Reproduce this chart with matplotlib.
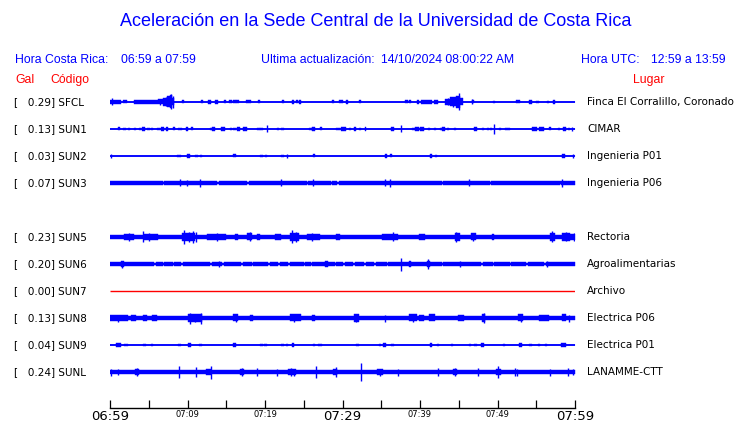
import numpy as np
import matplotlib.pyplot as plt

# stations, top to bottom (row 4 is left empty in the original)
codes = ['SFCL', 'SUN1', 'SUN2', 'SUN3', 'SUN5', 'SUN6', 'SUN7', 'SUN8', 'SUN9', 'SUNL']
rows = [0, 1, 2, 3, 5, 6, 7, 8, 9, 10]
peak_gal = [0.29, 0.13, 0.03, 0.07, 0.23, 0.20, 0.00, 0.13, 0.04, 0.24]
places = ['Finca El Corralillo, Coronado', 'CIMAR', 'Ingenieria P01', 'Ingenieria P06',
          'Rectoria', 'Agroalimentarias', 'Archivo', 'Electrica P06', 'Electrica P01',
          'LANAMME-CTT']

# time axis: minutes after 06:59
tick_min = list(range(0, 61, 5))
tick_labels = ['06:59', '', '07:09', '', '07:19', '', '07:29', '', '07:39', '', '07:49', '', '07:59']
big_labels = ['06:59', '07:29', '07:59']

# envelopes: base level, bursts (t0, t1, amp), blips (t, amp), spikes (t, amp)
sfcl_base = 0.0
sfcl_blocks = [(0.0, 1.4, 2.3), (1.7, 2.2, 1.5), (3.1, 6.2, 1.7), (6.2, 6.8, 2.5), (6.8, 7.4, 4.0),
               (7.4, 7.7, 5.5), (7.7, 8.0, 6.5), (8.0, 8.3, 3.5), (12.6, 13.0, 1.6), (13.5, 13.9, 1.8),
               (23.5, 23.8, 1.8), (24.4, 24.7, 1.8), (30.4, 30.7, 1.8), (39.6, 39.9, 1.8),
               (40.1, 41.5, 2.0), (41.8, 42.3, 2.0), (43.2, 43.9, 3.0), (43.9, 44.6, 4.5),
               (44.6, 45.2, 6.0), (45.2, 45.6, 3.5), (52.4, 52.9, 1.5), (54.1, 54.4, 1.8), (57.2, 57.4, 1.8)]
sfcl_blips = [(9.3, 1.5), (11.7, 1.5), (14.7, 1.5), (15.4, 1.5), (15.9, 1.5), (16.3, 1.5), (17.6, 1.5),
              (17.9, 1.5), (19.1, 1.5), (22.2, 1.5), (24.0, 1.5), (28.6, 1.5), (29.5, 1.5), (29.8, 1.5),
              (32.1, 1.5), (38.1, 1.5), (38.6, 1.5), (46.7, 1.5), (49.4, 1.3), (55.0, 1.3), (56.4, 1.3)]
sfcl_spikes = [(0.3, 3.5), (6.5, 3.0), (7.2, 4.5), (7.9, 7.5), (8.1, 6.0), (43.6, 3.5), (44.2, 5.0),
               (45.0, 8.5), (46.7, 2.5)]

sun1_base = 0.0
sun1_blocks = [(4.1, 4.5, 1.6), (6.6, 7.0, 1.8), (7.2, 7.5, 1.6), (9.8, 10.0, 1.6), (13.2, 13.5, 1.6),
               (14.3, 14.8, 1.8), (16.4, 16.8, 1.8), (17.2, 17.7, 1.8), (26.1, 26.4, 1.6),
               (29.8, 30.4, 1.8), (31.5, 31.7, 1.6), (32.9, 33.0, 1.6), (36.3, 36.6, 1.8),
               (39.2, 39.9, 1.8), (40.0, 40.5, 1.8), (42.8, 43.2, 1.6), (47.0, 47.3, 1.6),
               (54.4, 55.1, 1.8), (55.3, 56.0, 1.8), (58.4, 58.8, 1.8)]
sun1_blips = [(1.0, 1.5), (1.7, 1.3), (2.3, 1.3), (3.1, 1.3), (3.7, 1.3), (4.8, 1.3), (5.3, 1.3),
              (6.1, 1.3), (8.1, 1.5), (8.8, 1.3), (9.0, 1.3), (10.4, 1.5), (12.9, 1.3), (15.5, 1.3),
              (15.9, 1.3), (19.0, 1.3), (19.4, 1.3), (21.5, 1.3), (22.1, 1.3), (25.7, 1.3), (27.1, 1.5),
              (29.2, 1.3), (29.4, 1.3), (30.8, 1.3), (32.1, 1.3), (39.0, 1.3), (41.0, 1.3), (41.8, 1.3),
              (42.6, 1.3), (43.5, 1.3), (44.4, 1.3), (48.0, 1.3), (48.6, 1.3), (49.0, 1.3), (50.2, 1.3),
              (51.0, 1.3), (51.3, 1.3), (56.6, 1.5), (57.8, 1.3), (59.1, 1.3)]
sun1_spikes = [(20.3, 3.5), (37.5, 3.5), (49.5, 5.0), (59.6, 2.0)]

sun2_base = 0.0
sun2_blocks = [(9.9, 10.3, 1.8), (35.5, 35.7, 1.8), (41.3, 41.5, 1.6), (58.3, 58.7, 1.8)]
sun2_blips = [(8.6, 1.3), (8.9, 1.3), (11.0, 1.3), (11.6, 1.3), (15.9, 1.5), (19.4, 1.3), (20.0, 1.3),
              (22.1, 1.3), (26.2, 1.5), (36.1, 1.5), (41.9, 1.3)]
sun2_spikes = [(0.1, 2.0), (22.8, 2.0), (59.7, 2.0)]

sun3_base = 2.0
sun3_blocks = [(6.8, 7.0, 1.2), (13.8, 14.0, 1.2), (17.7, 17.9, 1.2), (25.4, 25.6, 1.2),
               (28.5, 28.7, 1.2), (29.3, 29.5, 1.2), (42.8, 43.0, 1.2), (49.0, 49.2, 1.2),
               (58.0, 58.2, 1.5)]
sun3_blips = []
sun3_spikes = [(9.0, 3.5), (9.9, 3.0), (11.6, 4.0), (22.1, 3.5), (26.2, 3.5), (35.5, 3.5),
               (36.1, 4.0), (46.3, 3.5), (58.3, 4.0)]

sun5_base = 2.3
sun5_blocks = [(1.8, 3.1, 3.0), (4.4, 6.2, 3.3), (9.3, 11.0, 4.0), (12.5, 15.0, 2.8), (16.1, 16.5, 3.0),
               (17.7, 18.3, 3.5), (19.0, 19.3, 3.0), (21.3, 22.1, 3.2), (23.2, 24.4, 4.2),
               (25.4, 27.1, 2.8), (29.2, 29.7, 3.0), (35.1, 37.2, 3.0), (39.9, 40.7, 2.8),
               (44.5, 45.2, 4.0), (46.6, 47.2, 3.5), (49.3, 49.6, 3.0), (56.8, 57.4, 4.2),
               (58.3, 59.4, 3.6), (59.4, 60.0, 3.3)]
sun5_blips = []
sun5_spikes = [(2.4, 3.8), (4.2, 5.5), (5.0, 4.2), (9.6, 7.0), (10.2, 5.0), (10.7, 6.0), (11.1, 5.0),
               (13.8, 3.6), (18.0, 4.5), (23.5, 6.5), (24.0, 5.0), (26.0, 3.6), (36.5, 4.5),
               (44.7, 5.0), (46.9, 4.3), (57.0, 5.5), (58.8, 4.5), (59.9, 4.0)]

sun6_base = 1.8
sun6_blocks = [(1.4, 1.8, 2.8), (5.7, 5.9, 1.0), (6.8, 7.0, 1.0), (8.1, 8.3, 1.0), (9.2, 9.4, 1.0),
               (12.9, 13.1, 1.0), (14.5, 14.7, 1.0), (16.9, 17.1, 1.0), (18.3, 18.5, 1.0),
               (20.4, 20.6, 1.0), (21.7, 21.9, 1.0), (23.0, 23.2, 1.0), (25.0, 25.2, 1.0),
               (25.9, 26.1, 1.0), (27.7, 28.1, 3.0), (29.0, 29.2, 1.0), (30.1, 30.3, 1.0),
               (31.4, 31.6, 1.0), (32.8, 33.0, 1.0), (34.1, 34.3, 1.0), (35.7, 35.9, 1.0),
               (38.6, 38.9, 3.0), (40.9, 41.3, 3.0), (42.8, 43.0, 1.0), (47.9, 48.1, 1.0),
               (49.4, 49.6, 1.0), (51.6, 51.8, 1.0), (53.7, 53.9, 1.0), (56.0, 56.2, 1.0)]
sun6_blips = []
sun6_spikes = [(1.5, 3.5), (14.0, 2.8), (37.5, 6.5), (41.0, 4.5), (45.1, 3.0), (56.4, 3.0)]

sun7_base = 0.0
sun7_blocks = []
sun7_blips = []
sun7_spikes = []

sun8_base = 2.1
sun8_blocks = [(0.0, 2.3, 2.8), (2.7, 3.3, 2.8), (4.2, 4.8, 2.9), (5.4, 6.1, 2.8), (10.1, 11.9, 4.0),
               (15.9, 16.5, 3.5), (18.1, 18.4, 3.2), (23.2, 24.6, 3.5), (26.1, 26.5, 3.0),
               (31.5, 32.1, 3.8), (38.6, 39.6, 3.5), (39.9, 40.5, 3.0), (41.2, 41.9, 3.5),
               (44.9, 45.7, 3.0), (48.0, 48.4, 3.8), (52.6, 53.3, 3.5), (55.3, 56.6, 3.3),
               (58.3, 58.8, 3.5)]
sun8_blips = []
sun8_spikes = [(1.0, 3.5), (10.3, 5.5), (11.0, 4.5), (11.7, 5.5), (16.2, 4.0), (23.8, 4.2),
               (31.8, 4.5), (35.5, 3.5), (39.1, 4.0), (48.2, 4.8), (53.0, 4.0), (59.2, 3.5)]

sun9_base = 0.0
sun9_blocks = [(0.8, 1.4, 1.6), (1.8, 2.3, 1.4), (8.8, 9.2, 1.4), (10.1, 10.5, 1.6), (11.5, 11.9, 1.4),
               (15.9, 16.2, 1.6), (23.5, 23.7, 1.6), (26.8, 27.3, 1.4), (35.2, 35.6, 1.6),
               (41.3, 41.6, 1.6), (47.0, 47.3, 1.4), (47.9, 48.3, 1.6), (52.8, 53.2, 1.6),
               (58.2, 58.8, 1.6)]
sun9_blips = [(4.3, 1.3), (5.3, 1.3), (19.4, 1.3), (19.9, 1.3), (22.1, 1.3), (22.7, 1.3), (26.2, 1.3),
              (31.8, 1.3), (34.7, 1.3), (36.3, 1.3), (42.2, 1.3), (44.0, 1.3), (46.3, 1.3),
              (50.7, 1.3), (54.1, 1.3), (55.2, 1.3), (56.1, 1.3)]
sun9_spikes = []

sunl_base = 2.0
sunl_blocks = [(16.8, 17.3, 3.0), (28.8, 29.3, 3.0), (49.8, 50.4, 3.2), (3.2, 3.8, 2.5),
               (12.4, 13.0, 2.5), (23.0, 24.0, 2.6), (34.5, 35.2, 2.5), (44.2, 44.8, 2.6)]
sunl_blips = []
sunl_spikes = [(0.1, 3.5), (1.0, 3.0), (3.5, 4.0), (8.9, 6.0), (11.1, 5.0), (13.0, 6.5), (17.0, 4.0),
               (19.0, 4.0), (21.5, 3.5), (23.3, 4.5), (23.7, 3.5), (26.6, 6.0), (29.1, 5.0),
               (32.4, 9.0), (34.8, 3.5), (37.2, 3.5), (42.3, 4.5), (44.5, 4.0), (47.5, 4.0),
               (50.0, 6.0), (52.2, 4.0), (52.5, 3.5), (56.8, 3.5), (59.1, 4.5), (59.8, 3.0)]

traces = [
    (sfcl_base, sfcl_blocks, sfcl_blips, sfcl_spikes),
    (sun1_base, sun1_blocks, sun1_blips, sun1_spikes),
    (sun2_base, sun2_blocks, sun2_blips, sun2_spikes),
    (sun3_base, sun3_blocks, sun3_blips, sun3_spikes),
    (sun5_base, sun5_blocks, sun5_blips, sun5_spikes),
    (sun6_base, sun6_blocks, sun6_blips, sun6_spikes),
    (sun7_base, sun7_blocks, sun7_blips, sun7_spikes),
    (sun8_base, sun8_blocks, sun8_blips, sun8_spikes),
    (sun9_base, sun9_blocks, sun9_blips, sun9_spikes),
    (sunl_base, sunl_blocks, sunl_blips, sunl_spikes),
]

BLUE = '#0000ff'
RED = '#ff0000'
W, H = 740, 423
ROW_PX = 27.0  # one row of the axes is 27 px tall


def envelope(base, blocks):
    # step envelope, later blocks win where they overlap
    edges = sorted({0.0, 60.0} | {t for b in blocks for t in b[:2]})
    amp = []
    for a, b in zip(edges[:-1], edges[1:]):
        mid = (a + b) / 2
        v = base
        for t0, t1, h in blocks:
            if t0 <= mid < t1:
                v = h
        amp.append(v)
    amp.append(amp[-1])
    return np.array(edges), np.array(amp)


fig = plt.figure(figsize=(W / 100, H / 100), dpi=100)
ax = fig.add_axes([110 / W, 1 - 408 / H, 465 / W, 320 / H])
ax.set_xlim(0, 60)
ax.set_ylim((408 - 102) / ROW_PX, (88 - 102) / ROW_PX)

for row, (base, blocks, blips, spikes), peak in zip(rows, traces, peak_gal):
    color = RED if peak == 0 else BLUE
    k = 1 / ROW_PX
    ax.hlines(row, 0, 60, color=color, lw=1.3 if peak > 0 else 1.0)
    allblocks = list(blocks) + [(t, t + 0.3, a) for t, a in blips]
    if base > 0 or allblocks:
        t, a = envelope(base, allblocks)
        ax.fill_between(t, row - a * k, row + a * k, step='post', color=color, lw=0.3)
    for ts, a in spikes:
        ax.vlines(ts, row - a * k, row + a * k, color=color, lw=1.0)

for s in ['top', 'left', 'right']:
    ax.spines[s].set_visible(False)
ax.spines['bottom'].set_linewidth(1.0)
ax.set_yticks([])
ax.set_xticks(tick_min)
ax.set_xticklabels(tick_labels)
ax.tick_params(axis='x', direction='in', length=6, width=0.9, pad=1.5)
for lab in ax.get_xticklabels():
    if lab.get_text() in big_labels:
        lab.set_fontsize(9.5)
    else:
        lab.set_fontsize(6)


def ftext(x, y, s, **kw):
    fig.text(x / W, 1 - y / H, s, va='center', **kw)


ftext(376, 22, 'Aceleración en la Sede Central de la Universidad de Costa Rica',
      ha='center', color=BLUE, fontsize=13.0, family='Liberation Sans')
hdr = dict(color=BLUE, fontsize=8.8, family='Liberation Sans')
ftext(15, 60, 'Hora Costa Rica:', **hdr)
ftext(121, 60, '06:59 a 07:59', **hdr)
ftext(261, 60, 'Ultima actualización:', **hdr)
ftext(381, 60, '14/10/2024 08:00:22 AM', **hdr)
ftext(581, 60, 'Hora UTC:', **hdr)
ftext(651, 60, '12:59 a 13:59', **hdr)
red = dict(color=RED, fontsize=8.8, family='Liberation Sans')
ftext(15, 80, 'Gal', **red)
ftext(50, 80, 'Código', **red)
ftext(633, 80, 'Lugar', **red)

for row, code, peak, place in zip(rows, codes, peak_gal, places):
    y = 102 + ROW_PX * row
    ftext(14, y, f'[   {peak:.2f}] {code}', color='black', fontsize=7.5)
    ftext(587, y, place, color='black', fontsize=7.5)

fig.savefig('out.png', dpi=100)
